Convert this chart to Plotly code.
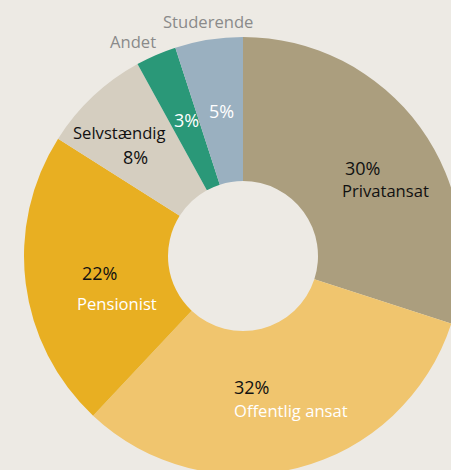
import plotly.graph_objects as go

categories = ["Privatansat", "Offentlig ansat", "Pensionist", "Selvstændig", "Andet", "Studerende"]
values = [30, 32, 22, 8, 3, 5]
colors = ["#ab9e7e", "#f0c56e", "#e8af22", "#d5cec0", "#2a9878", "#9ab0c0"]

BG = "#edeae4"
W, H = 466, 478
CX, CY, R, HOLE_R = 243, 256, 219, 75

fig = go.Figure(go.Pie(
    labels=categories,
    values=values,
    marker=dict(colors=colors, line=dict(width=0)),
    sort=False,
    direction="clockwise",
    rotation=0,
    hole=HOLE_R / R,
    textinfo="none",
    hoverinfo="label+percent",
    domain=dict(x=[(CX - R) / W, (CX + R) / W], y=[1 - (CY + R) / H, 1 - (CY - R) / H]),
    showlegend=False,
))

FONT = "Open Sans"
NAME_SIZE = 16.6
PCT_SIZE = 18

def ann(text, px, py, color, size=NAME_SIZE, xanchor="center"):
    fig.add_annotation(
        text=text, x=px / W, y=1 - py / H, xref="paper", yref="paper",
        showarrow=False, xanchor=xanchor, yanchor="middle",
        font=dict(family=FONT, size=size, color=color),
    )

pct = {c: f"{v}%" for c, v in zip(categories, values)}

ann(pct["Privatansat"], 362, 168, "#111111", size=PCT_SIZE)
ann(categories[0], 385, 191, "#111111")
ann(pct["Offentlig ansat"], 232, 387, "#111111", size=PCT_SIZE, xanchor="left")
ann(categories[1], 232, 410, "#ffffff", xanchor="left")
ann(pct["Pensionist"], 99, 273, "#111111", size=PCT_SIZE)
ann(categories[2], 117, 303, "#ffffff")
ann(categories[3], 119, 133, "#111111")
ann(pct["Selvstændig"], 135, 157, "#111111", size=PCT_SIZE)
ann(pct["Andet"], 186, 120, "#ffffff", size=PCT_SIZE)
ann(pct["Studerende"], 221, 111, "#ffffff", size=PCT_SIZE)
ann(categories[4], 133, 42, "#8a8a8a")
ann(categories[5], 208, 22, "#8a8a8a")

fig.update_layout(
    width=W, height=H,
    margin=dict(l=0, r=0, t=0, b=0),
    paper_bgcolor=BG,
    plot_bgcolor=BG,
)

fig.write_html(
    "out.html",
    config={"displayModeBar": False},
    post_script="document.body.style.margin='0';document.body.style.overflow='hidden';"
                "document.documentElement.style.overflow='hidden';",
)
